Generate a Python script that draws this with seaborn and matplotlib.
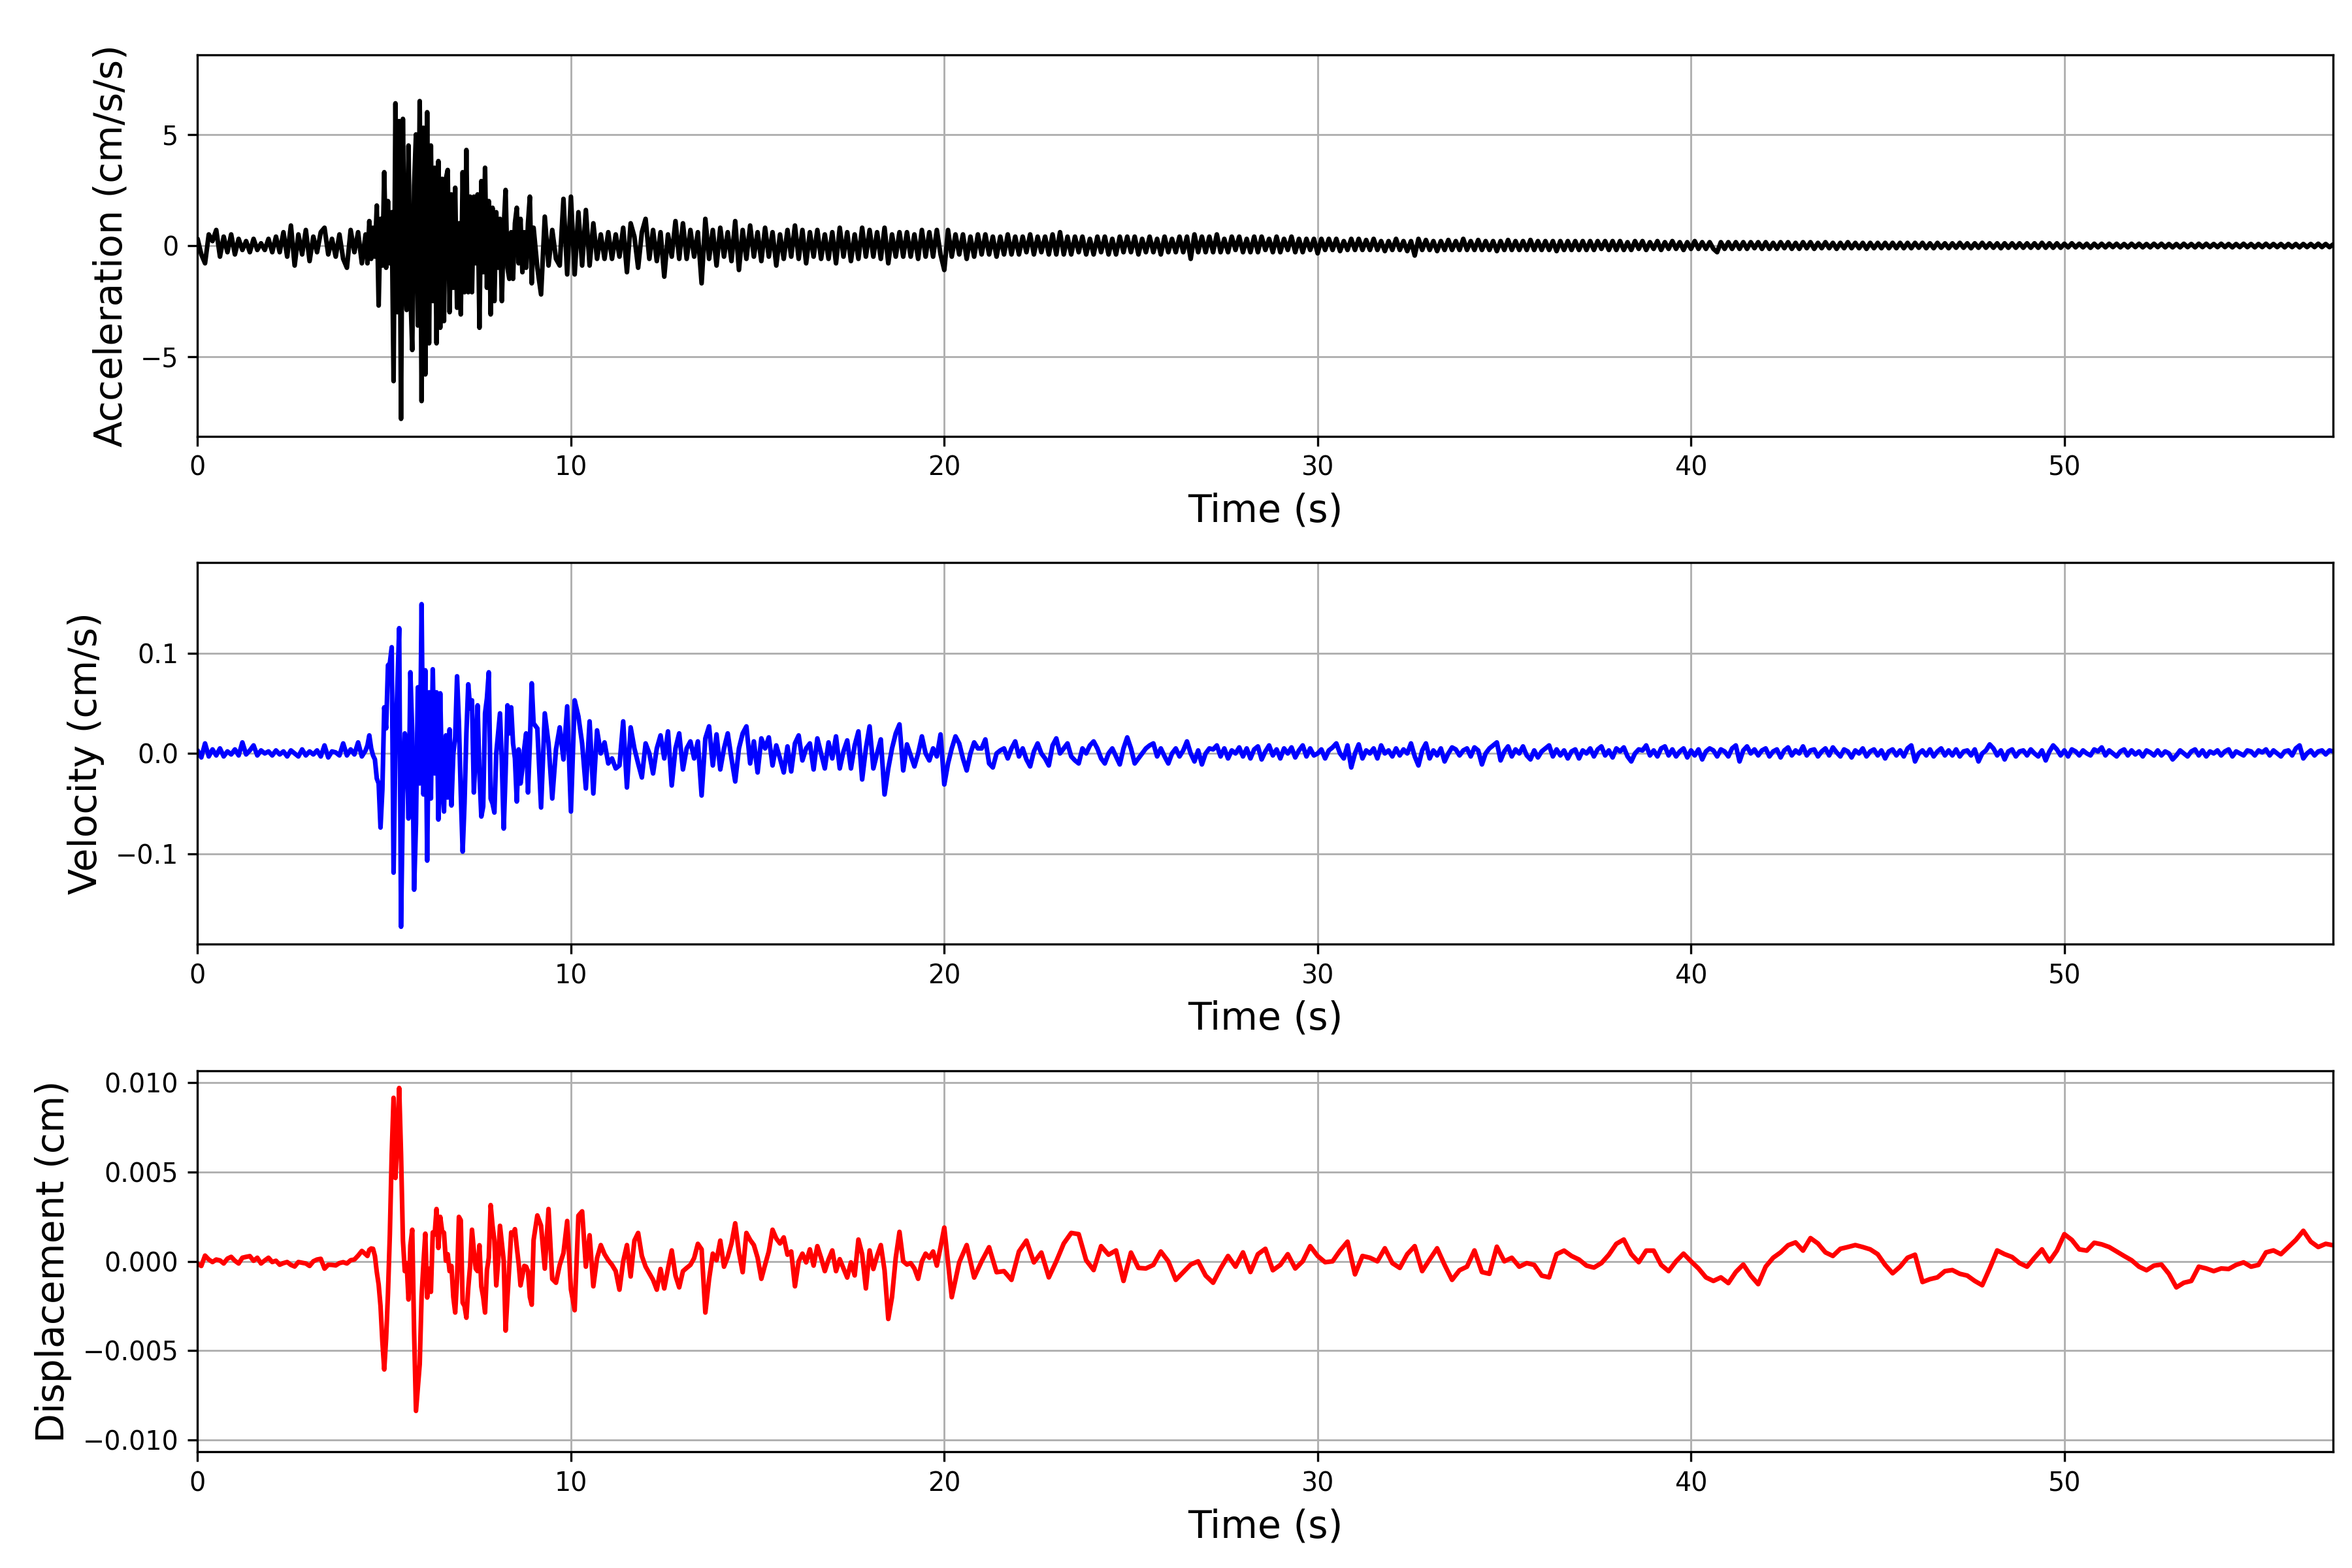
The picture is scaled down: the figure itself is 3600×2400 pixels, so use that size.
import numpy as np
import pandas as pd
import matplotlib
matplotlib.use("Agg")
import matplotlib.pyplot as plt
from matplotlib.ticker import MultipleLocator
import seaborn as sns

# Acceleration (cm/s/s).
# pre-event 0-4.4 s every 0.1 s, strong motion 4.5-8.95 s every 0.05 s, coda 9.0-57.2 s every 0.1 s
acc_pre = [
    0.3, -0.4, -0.8, 0.5, 0.2, 0.7, -0.5, 0.4, -0.3, 0.5,
    -0.4, 0.3, -0.2, 0.2, -0.3, 0.3, -0.2, 0.1, -0.2, 0.3,
    -0.3, 0.4, -0.3, 0.6, -0.5, 0.9, -0.9, 0.5, -0.4, 0.7,
    -0.7, 0.4, -0.3, 0.6, 0.8, -0.4, 0.3, -0.5, 0.5, -0.6,
    -1.0, 0.7, -0.3, 0.6, -0.8,
]
acc_strong = [
    0.5, -0.8, 1.1, -0.6, 0.8, -0.5, 1.8, -2.7, 1.2, -0.9,
    3.3, -1.0, 2.0, -0.8, 1.5, -6.1, 6.4, -3.0, 5.6, -7.8,
    5.7, -1.3, -2.9, 4.5, -2.0, -4.7, 2.7, 5.0, -3.6, 6.5,
    -7.0, 5.3, -5.8, 6.0, -4.4, 4.5, -2.5, 3.5, -4.4, 3.8,
    -3.7, 3.0, -3.4, 3.0, 3.4, -3.0, 2.3, -1.9, 2.6, -2.8,
    1.0, -3.1, 3.3, -2.1, 4.3, -2.1, 2.2, -2.1, 2.2, -0.8,
    2.3, -3.7, 2.9, -1.2, 3.5, -1.9, 2.0, -3.1, 1.7, -2.5,
    1.5, -1.0, 1.2, -2.5, 0.8, 2.5, -1.0, -1.5, 0.6, -1.5,
    1.0, 1.7, -0.8, 1.2, -1.2, 0.6, -1.0, 1.0, 2.2, -1.7,
]
acc_coda = [
    0.8, -1.0, -2.2, 1.3, -0.9, 0.7, -0.6, -0.9, 2.1, -1.3,
    2.2, -1.3, 1.5, -0.9, 1.6, -0.9, 1.0, -0.6, 0.5, -0.6,
    0.6, -0.6, 0.5, -0.5, 0.8, -1.2, 1.0, 0.4, -1.0, 0.6,
    1.2, -0.6, 0.7, -0.7, 0.6, -1.4, 0.5, -0.5, 1.1, -0.6,
    1.0, -0.6, 0.7, -0.5, 0.6, -1.7, 1.2, -0.6, 0.7, -0.9,
    0.8, -0.5, 0.6, -0.7, 1.1, -1.1, 0.7, -0.6, 0.9, -0.5,
    0.6, -0.7, 0.8, -0.5, 0.6, -0.9, 0.5, -0.6, 0.7, -0.5,
    0.9, -0.6, 0.7, -0.8, 0.6, -0.5, 0.7, -0.6, 0.5, -0.6,
    0.6, -0.8, 0.8, -0.5, 0.6, -0.7, 0.5, -0.6, 0.8, -0.5,
    0.7, -0.5, 0.6, -0.6, 0.8, -0.8, 0.5, -0.5, 0.6, -0.5,
    0.6, -0.5, 0.5, -0.6, 0.7, -0.5, 0.6, -0.5, 0.7, -0.4,
    -1.1, 0.7, -0.5, 0.5, -0.4, 0.5, -0.6, 0.4, -0.5, 0.5,
    -0.4, 0.5, -0.4, 0.4, -0.5, 0.4, -0.4, 0.5, -0.4, 0.4,
    -0.4, 0.4, -0.3, 0.5, -0.4, 0.4, -0.3, 0.4, -0.4, 0.5,
    -0.4, 0.6, -0.4, 0.4, -0.4, 0.4, -0.3, 0.4, -0.4, 0.3,
    -0.4, 0.4, -0.3, 0.4, -0.4, 0.3, -0.4, 0.4, -0.3, 0.4,
    -0.3, 0.4, -0.4, 0.3, -0.3, 0.4, -0.3, 0.3, -0.4, 0.4,
    -0.3, 0.3, -0.3, 0.4, -0.3, 0.4, -0.6, 0.5, -0.3, 0.4,
    -0.3, 0.4, -0.3, 0.5, -0.3, 0.3, -0.3, 0.4, -0.2, 0.4,
    -0.3, 0.3, -0.3, 0.4, -0.3, 0.4, -0.2, 0.3, -0.3, 0.4,
    -0.3, 0.3, -0.2, 0.4, -0.3, 0.3, -0.3, 0.3, -0.2, 0.3,
    -0.35, 0.3, -0.2, 0.3, -0.2, 0.3, -0.25, 0.2, -0.2, 0.3,
    -0.2, 0.3, -0.2, 0.25, -0.2, 0.3, -0.2, 0.2, -0.25, 0.2,
    -0.2, 0.3, -0.2, 0.2, -0.25, 0.2, -0.45, 0.3, -0.2, 0.25,
    -0.2, 0.2, -0.25, 0.2, -0.2, 0.25, -0.2, 0.2, -0.2, 0.3,
    -0.2, 0.2, -0.2, 0.25, -0.2, 0.2, -0.2, 0.2, -0.25, 0.2,
    -0.2, 0.25, -0.2, 0.2, -0.2, 0.2, -0.2, 0.25, -0.2, 0.2,
    -0.2, 0.2, -0.2, 0.2, -0.25, 0.2, -0.2, 0.2, -0.2, 0.2,
    -0.2, 0.2, -0.2, 0.2, -0.2, 0.2, -0.15, 0.2, -0.2, 0.2,
    -0.2, 0.2, -0.2, 0.15, -0.2, 0.2, -0.15, 0.2, -0.2, 0.15,
    -0.15, 0.2, -0.2, 0.15, -0.15, 0.2, -0.15, 0.15, -0.2, 0.15,
    -0.15, 0.2, -0.15, 0.15, -0.15, 0.15, -0.15, -0.3, 0.15, -0.15,
    0.15, -0.15, 0.15, -0.15, 0.15, -0.15, 0.15, -0.12, 0.15, -0.15,
    0.15, -0.15, 0.12, -0.15, 0.15, -0.12, 0.15, -0.15, 0.12, -0.15,
    0.15, -0.12, 0.15, -0.15, 0.12, -0.12, 0.15, -0.12, 0.12, -0.15,
    0.12, -0.12, 0.15, -0.12, 0.12, -0.12, 0.12, -0.15, 0.12, -0.12,
    0.12, -0.12, 0.12, -0.12, 0.12, -0.12, 0.12, -0.12, 0.12, -0.12,
    0.12, -0.1, 0.12, -0.12, 0.1, -0.12, 0.12, -0.1, 0.1, -0.12,
    0.1, -0.1, 0.12, -0.1, 0.1, -0.12, 0.1, -0.1, 0.12, -0.1,
    0.1, -0.1, 0.1, -0.12, 0.1, -0.1, 0.1, -0.1, 0.1, -0.1,
    0.1, -0.1, 0.1, -0.1, 0.12, -0.1, 0.1, -0.1, 0.1, -0.1,
    0.08, -0.08, 0.1, -0.08, 0.08, -0.08, 0.08, -0.1, 0.08, -0.08,
    0.08, -0.08, 0.08, -0.07, 0.08, -0.08, 0.07, -0.08, 0.08, -0.07,
    0.08, -0.08, 0.07, -0.08, 0.08, -0.07, 0.08, -0.08, 0.07, -0.08,
    0.07, -0.08, 0.08, -0.07, 0.07, -0.08, 0.08, -0.07, 0.08, -0.07,
    0.07, -0.07, 0.08, -0.07, 0.07, -0.08, 0.07, -0.07, 0.08, -0.07,
    0.07, -0.08, 0.07, -0.07, 0.08, -0.07, 0.07, -0.07, 0.07, -0.08,
    0.07, -0.07, 0.07, -0.08, 0.07, -0.07, 0.07, -0.07, 0.08, -0.07,
    0.07, -0.07, 0.05,
]

# Velocity in units of 0.001 cm/s, same sampling as acceleration
vel_pre = [
    3, -4, 10, -3, 4, -2, 5, -3, 2, -1,
    4, -2, 11, -1, 3, 8, -2, 3, 0, 2,
    -2, 3, -1, 2, -3, 3, 0, -3, 4, -2,
    2, -1, 3, -3, 8, -4, 2, 1, -2, 10,
    -2, 4, -1, 11, -3,
]
vel_strong = [
    3, 8, 18, 5, -2, -6, -25, -30, -74, -36,
    46, 25, 88, 90, 106, -119, 10, 64, 125, -173,
    -40, 20, 5, -65, 81, 20, -136, -70, 66, -30,
    149, -41, 83, -107, 61, -45, 84, -20, 61, -66,
    60, -35, -58, 18, -44, 24, -52, 0, 16, 77,
    30, -40, -98, -50, 20, 69, 45, 53, -39, 2,
    48, -20, -63, -53, 40, 55, 81, -45, -50, -59,
    0, 20, 40, -10, -75, -20, 48, 20, 46, 10,
    -5, -48, 4, -30, -15, 5, 20, -39, 10, 70,
]
vel_coda = [
    30, 25, -54, 40, 10, -45, 4, 26, -6, 47,
    -58, 53, 37, 10, -35, 32, -40, 23, 0, 11,
    -10, -5, -15, -12, 32, -34, 26, 5, -10, -24,
    10, 0, -20, 5, 18, -5, 22, -32, 5, 20,
    -16, 5, 12, -5, 12, -42, 15, 27, -12, 19,
    -16, 5, 20, -5, -28, 5, 20, 27, -10, 12,
    -19, 15, 5, 16, -12, 8, -5, -19, 7, -18,
    10, 18, -7, 5, 10, -16, 15, 0, -15, 11,
    -5, 17, -15, 2, 13, -15, 8, 22, -26, 5,
    27, -15, 0, 14, -41, -15, 5, 20, 29, -17,
    9, -2, -13, 0, 17, 0, -7, 5, -3, 19,
    -31, -10, 5, 17, 10, -5, -17, 0, 11, 5,
    5, 14, -10, -14, 0, 3, 5, -5, 5, 12,
    -3, 5, -6, -13, 2, 10, 0, -5, -12, 8,
    15, 0, 5, 10, -3, -7, -10, 5, 0, 8,
    12, 5, -5, -10, 0, 5, -3, -11, 5, 16,
    5, -10, -5, 0, 5, 8, 10, -3, 5, -3,
    -10, 0, 5, -3, 3, 12, 0, -8, 3, -11,
    0, 5, 4, 8, -3, 5, -5, 3, 0, 6,
    -3, 5, -5, 4, 7, -6, 2, 8, -2, 4,
    -5, 5, 0, 6, -4, 3, 8, -3, 5, -2,
    0, 4, -5, 3, 6, 10, 0, -5, 8, -14,
    0, 9, -5, 3, 0, 5, -5, 8, 0, 3,
    -3, 5, -2, 4, 0, 10, -3, -12, 3, 10,
    -5, 3, -2, 5, -8, 0, 6, 4, -2, 3,
    5, -3, 6, 3, -11, 0, 5, 8, 11, -7,
    2, 7, -3, 4, 0, 7, -2, -6, 3, -4,
    2, 5, 8, -3, 4, -2, 3, -5, 2, 4,
    -5, 3, 0, 5, -3, 4, 7, -2, 3, -4,
    5, 2, 6, -3, -8, 0, 4, 3, 8, -2,
    3, -3, 5, 7, -2, 4, -3, 2, 5, -4,
    3, -2, 4, -6, 2, 5, 3, -3, 4, 2,
    -3, 5, 8, -8, 3, 7, 0, 4, -2, 3,
    5, -3, 2, 4, -4, 3, 6, -2, 3, 0,
    7, -2, 3, 4, -3, 2, 5, -2, 6, 1,
    -3, 4, 2, -4, 3, 0, 5, -3, 2, 4,
    -2, 3, -5, 2, 4, -2, 3, -3, 5, 8,
    -8, 0, 3, -2, 4, -3, 2, 5, -2, 3,
    -2, 4, -3, 2, 3, -2, 4, -8, 0, 3,
    9, 5, -2, 3, -6, 2, 4, -3, 2, 3,
    -2, 4, 0, -3, 3, -7, 2, 8, 4, -2,
    3, -3, 4, 2, -2, 3, 0, -2, 4, 2,
    6, -2, 3, 0, -3, 2, 4, -2, 3, -1,
    2, -3, 3, 1, -2, 3, -2, 2, 0, -6,
    -2, 3, 0, -3, 2, 4, -2, 3, -3, 2,
    0, 3, -2, 2, 4, -3, 2, 0, -2, 3,
    2, -2, 3, 1, 4, -2, 3, 0, -3, 2,
    3, -2, 5, 8, -5, 0, 3, -2, 2, 3,
    -1, 3, 2,
]

# Displacement in units of 1e-5 cm:
# 0-4.4 s every 0.1 s, 4.5-8.95 s every 0.05 s, 9.0-19.9 s every 0.1 s, 20.0-57.2 s every 0.2 s
disp_pre = [
    -12, -26, 32, 10, -4, 10, 5, -12, 15, 25,
    3, -12, 20, 25, 29, 3, 20, -12, 5, 20,
    -4, 3, -19, -10, -4, -20, -29, -4, -8, -12,
    -26, 0, 10, 14, -41, -19, -20, -23, -10, -5,
    -12, 6, 10, 32, 58,
]
disp_strong = [
    40, 30, 64, 72, 70, 30, -60, -130, -250, -450,
    -606, -432, -180, 150, 600, 916, 467, 670, 971, 600,
    119, -55, -10, -214, 90, 177, -400, -838, -707, -577,
    -200, -12, 155, -203, -41, -171, 162, 150, 293, 75,
    249, 170, 160, 3, 40, -55, -26, -200, -287, -100,
    249, 230, -232, -250, -316, -150, -26, 177, 60, -41,
    -55, 90, -142, -200, -287, -50, 20, 315, 200, 119,
    -135, 0, 199, 100, 3, -388, -200, -26, 162, 150,
    180, 80, -12, -135, -80, -26, -30, -55, -200, -243,
]
disp_mid = [
    119, 257, 200, -41, 293, -99, -120, -20, 46, 226,
    -157, -274, 256, 280, -30, 146, -140, 18, 91, 40,
    6, -20, -55, -159, 0, 91, -85, 116, 159, 30,
    -30, -67, -104, -159, -43, -152, -40, 61, -80, -146,
    -55, -37, -20, 18, 98, 67, -287, -100, 43, 6,
    116, -30, 24, 100, 213, 50, -61, 159, 120, 91,
    20, -98, -20, 55, 177, 128, 100, 134, 37, 55,
    -140, 0, 43, -6, 67, -24, 85, 20, -55, 10,
    61, -55, 12, -40, -91, -6, -79, 122, 40, -152,
    61, -43, 30, 91, -50, -323, -200, 20, 165, 0,
    -18, -10, -40, -98, 0, 43, 20, 55, -24, 80,
]
disp_late = [
    189, -201, -6, 91, -91,
    0, 79, -61, -55, -104,
    55, 116, -6, 49, -90,
    0, 100, 159, 152, 6,
    -49, 85, 37, 61, -110,
    49, -37, -40, -20, 55,
    0, -104, -61, -18, 0,
    -80, -120, -40, 30, -30,
    50, -60, 40, 70, -50,
    -20, 40, -40, 0, 85,
    30, -5, 0, 60, 110,
    -73, 30, 20, 0, 73,
    -10, -37, 40, 85, -55,
    10, 73, -20, -104, -50,
    -30, 61, -60, -70, 82,
    0, 20, -30, -10, -20,
    -80, -90, 40, 60, 30,
    10, -24, -35, -10, 37,
    98, 122, 40, -5, 60,
    60, -20, -55, 0, 43,
    0, -40, -90, -110, -90,
    -122, -60, -18, -80, -128,
    -30, 20, 50, 90, 106,
    60, 130, 100, 50, 30,
    70, 80, 91, 80, 67,
    40, -20, -67, -30, 20,
    37, -116, -100, -90, -55,
    -49, -70, -80, -110, -134,
    -40, 61, 40, 24, -10,
    -30, 20, 67, 0, 60,
    152, 120, 67, 60, 104,
    95, 80, 55, 30, 6,
    -30, -50, -24, -18, -70,
    -146, -120, -110, -30, -40,
    -55, -40, -43, -20, -6,
    -30, -20, 50, 61, 40,
    80, 120, 171, 110, 80,
    98, 90,
]

panel_labels = ["Acceleration (cm/s/s)", "Velocity (cm/s)", "Displacement (cm)"]
panel_colors = ["black", "blue", "red"]
panel_ysteps = [5, 0.1, 0.005]


def record(parts, scale=1.0):
    times, values = [], []
    for start, dt, vals in parts:
        times.append(start + dt * np.arange(len(vals)))
        values.append(np.asarray(vals, dtype=float) * scale)
    return pd.DataFrame({"time": np.concatenate(times), "value": np.concatenate(values)})


acc = record([(0.0, 0.1, acc_pre), (4.5, 0.05, acc_strong), (9.0, 0.1, acc_coda)])
vel = record([(0.0, 0.1, vel_pre), (4.5, 0.05, vel_strong), (9.0, 0.1, vel_coda)], 1e-3)
disp = record([(0.0, 0.1, disp_pre), (4.5, 0.05, disp_strong),
               (9.0, 0.1, disp_mid), (20.0, 0.2, disp_late)], 1e-5)

sns.set_style("ticks", {
    "axes.edgecolor": "black",
    "axes.labelcolor": "black",
    "text.color": "black",
    "xtick.color": "black",
    "ytick.color": "black",
})
plt.rcParams["font.family"] = ["DejaVu Sans"]

fig, axes = plt.subplots(3, 1, figsize=(12, 8), dpi=300)
fig.subplots_adjust(left=0.084, right=0.992, top=0.965, bottom=0.074, hspace=0.332)

for ax, df, color, label, step in zip(axes, [acc, vel, disp], panel_colors,
                                      panel_labels, panel_ysteps):
    sns.lineplot(data=df, x="time", y="value", ax=ax, color=color,
                 linewidth=1.7, estimator=None)
    lim = 1.1 * df["value"].abs().max()
    ax.set_ylim(-lim, lim)
    ax.set_xlim(0, 57.2)
    ax.yaxis.set_major_locator(MultipleLocator(step))
    ax.set_xlabel("Time (s)", fontsize=14)
    ax.set_ylabel(label, fontsize=14)
    ax.tick_params(labelsize=9.5, direction="out", length=3.5, width=0.8)
    ax.grid(True, color="#b0b0b0", linewidth=0.7)
    ax.set_axisbelow(True)
    for side in ax.spines.values():
        side.set_visible(True)
        side.set_linewidth(0.8)
        side.set_color("black")

fig.savefig("out.png", dpi=300)
